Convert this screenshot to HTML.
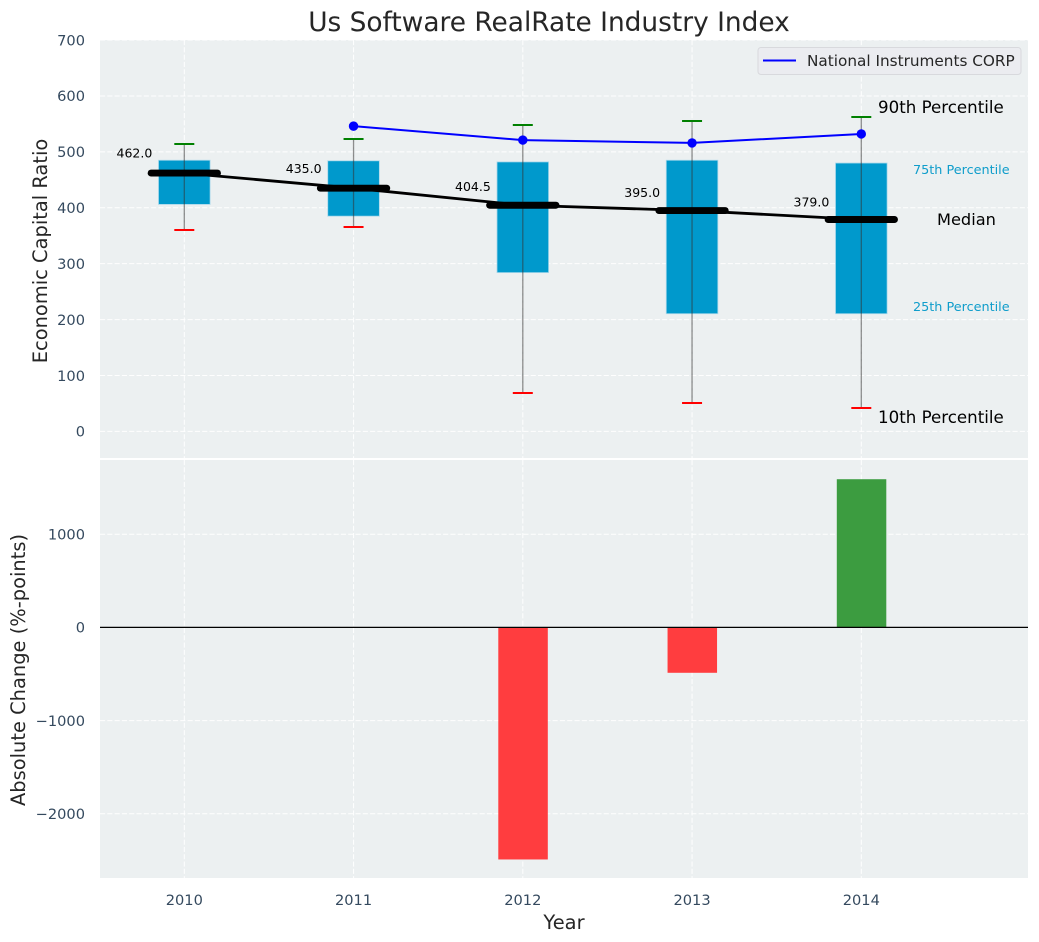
<!DOCTYPE html>
<html>
<head>
<meta charset="utf-8">
<style>
html,body{margin:0;padding:0;background:#fff;width:1039px;height:942px;overflow:hidden}
svg{display:block}
text{font-family:"DejaVu Sans","Liberation Sans",sans-serif}
</style>
</head>
<body>
<svg id="chart" xmlns="http://www.w3.org/2000/svg" width="1039" height="942" viewBox="0 0 1039 942">
<text x="549" y="31" font-size="26.4" fill="#262626" text-anchor="middle">Us Software RealRate Industry Index</text>
<rect x="100" y="40" width="928" height="418" fill="#ecf0f1"/>
<rect x="100" y="460" width="928" height="418" fill="#ecf0f1"/>
<g id="grid"></g>
<g id="marks"></g>
<g id="labels"></g>
<text transform="translate(47,251) rotate(-90)" font-size="19.44" fill="#262626" text-anchor="middle">Economic Capital Ratio</text>
<text transform="translate(25,670) rotate(-90)" font-size="19.44" fill="#262626" text-anchor="middle">Absolute Change (%-points)</text>
<text x="564" y="929" font-size="19.44" fill="#262626" text-anchor="middle">Year</text>
<text x="878" y="113" font-size="16.67" fill="#000">90th Percentile</text>
<text x="913" y="174" font-size="12.8" fill="#0f9dcb">75th Percentile</text>
<text x="937" y="225" font-size="16.2" fill="#000">Median</text>
<text x="913" y="311" font-size="12.8" fill="#0f9dcb">25th Percentile</text>
<text x="878" y="423" font-size="16.67" fill="#000">10th Percentile</text>
<g>
<rect x="758" y="47.5" width="263" height="27" rx="3" fill="#ebecf0" stroke="#d8d9dd" stroke-width="1"/>
<line x1="763" y1="60.5" x2="796" y2="60.5" stroke="#0000ff" stroke-width="2"/>
<text x="807" y="66" font-size="15.28" fill="#262626">National Instruments CORP</text>
</g>
</svg>
<script>
const years = [2010, 2011, 2012, 2013, 2014];
const p10 = [360, 366, 69, 51, 42];
const p25 = [406, 385, 284, 210.5, 210.5];
const medians = [462.0, 435.0, 404.5, 395.0, 379.0];
const p75 = [485, 484, 482, 485, 480];
const p90 = [514, 523, 548, 555, 562];
const companyYears = [2011, 2012, 2013, 2014];
const companyValues = [546, 521, 516, 532];
const changeYears = [2012, 2013, 2014];
const changeValues = [-2490, -487, 1590];
const topTicks = [0, 100, 200, 300, 400, 500, 600, 700];
const bottomTicks = [-2000, -1000, 0, 1000];

const NS = 'http://www.w3.org/2000/svg';
const xScale = v => 184.3 + (v - 2010) * 169.25;
const yTop = v => 431.4 - v * 0.5591;
const yBottom = v => 627.4 - v * 0.0932;
const gridG = document.getElementById('grid');
const marksG = document.getElementById('marks');
const labelsG = document.getElementById('labels');

function make(parent, tag, props, text) {
  const el = document.createElementNS(NS, tag);
  for (const k in props) el.setAttribute(k, props[k]);
  if (text !== undefined) el.textContent = text;
  parent.appendChild(el);
  return el;
}
const fmt = v => (v < 0 ? '\u2212' + Math.abs(v) : String(v));
const gridStyle = {stroke: '#ffffff', 'stroke-width': 1, 'stroke-dasharray': '5.1 2.2', opacity: 0.95};

topTicks.forEach(t => {
  const g = make(gridG, 'line', Object.assign({x1: 100, x2: 1028, y1: yTop(t), y2: yTop(t)}, gridStyle));
  
  
  const l = make(labelsG, 'text', {x: 85, y: yTop(t) + 5.3, 'font-size': 14.6, fill: '#34495e', 'text-anchor': 'end'}, fmt(t));
  
  
});
bottomTicks.forEach(t => {
  const g = make(gridG, 'line', Object.assign({x1: 100, x2: 1028, y1: yBottom(t), y2: yBottom(t)}, gridStyle));
  
  
  const l = make(labelsG, 'text', {x: 85, y: yBottom(t) + 5.3, 'font-size': 14.6, fill: '#34495e', 'text-anchor': 'end'}, fmt(t));
  
  
});
years.forEach(y => {
  const a = make(gridG, 'line', Object.assign({x1: xScale(y), x2: xScale(y), y1: 40, y2: 458}, gridStyle));
  
  
  const b = make(gridG, 'line', Object.assign({x1: xScale(y), x2: xScale(y), y1: 460, y2: 878}, gridStyle));
  
  
  const l = make(labelsG, 'text', {x: xScale(y), y: 905, 'font-size': 14.6, fill: '#34495e', 'text-anchor': 'middle'}, String(y));
  
  
});

years.forEach((y, i) => {
  const cx = xScale(y);
  const box = make(marksG, 'rect', {x: cx - 25.8, y: yTop(p75[i]), width: 51.6, height: yTop(p25[i]) - yTop(p75[i]), fill: '#0099cc', stroke: '#a9d8ea', 'stroke-width': 0.8});
  
  
  const wh = make(marksG, 'line', {x1: cx, x2: cx, y1: yTop(p90[i]), y2: yTop(p10[i]), stroke: '#333', 'stroke-width': 1.3, 'stroke-opacity': 0.55});
  
  
  const hi = make(marksG, 'line', {x1: cx - 10, x2: cx + 10, y1: Math.round(yTop(p90[i])), y2: Math.round(yTop(p90[i])), stroke: '#008000', 'stroke-width': 2});
  
  
  const lo = make(marksG, 'line', {x1: cx - 10, x2: cx + 10, y1: Math.round(yTop(p10[i])), y2: Math.round(yTop(p10[i])), stroke: '#ff0000', 'stroke-width': 2});
  
  
});

const medianLine = make(marksG, 'polyline', {points: years.map((y, i) => xScale(y) + ',' + yTop(medians[i])).join(' '), fill: 'none', stroke: '#000', 'stroke-width': 2.8});



years.forEach((y, i) => {
  const cx = xScale(y);
  const m = make(marksG, 'line', {x1: cx - 33.2, x2: cx + 33.2, y1: yTop(medians[i]), y2: yTop(medians[i]), stroke: '#000', 'stroke-width': 6.9, 'stroke-linecap': 'round'});
  
  
  const t = make(labelsG, 'text', {x: cx - 32, y: yTop(medians[i] * 1.0575 + 10) + 4.6, 'font-size': 12.5, fill: '#000', 'text-anchor': 'end'}, medians[i].toFixed(1));
  
  
});

const companyLine = make(marksG, 'polyline', {points: companyYears.map((y, i) => xScale(y) + ',' + yTop(companyValues[i])).join(' '), fill: 'none', stroke: '#0000ff', 'stroke-width': 2});


companyYears.forEach((y, i) => {
  const c = make(marksG, 'circle', {cx: xScale(y), cy: yTop(companyValues[i]), r: 4.7, fill: '#0000ff'});
  
  
});

changeYears.forEach((y, i) => {
  const v = changeValues[i];
  const top = Math.min(yBottom(v), yBottom(0));
  const h = Math.abs(yBottom(v) - yBottom(0));
  const b = make(marksG, 'rect', {x: xScale(y) - 24.5, y: top, width: 49.5, height: h, fill: v < 0 ? '#ff3d3f' : '#3c9c40'});
  
  
});
const zero = make(marksG, 'line', {x1: 100, x2: 1028, y1: yBottom(0), y2: yBottom(0), stroke: '#000', 'stroke-width': 1.3});


</script>
</body>
</html>
